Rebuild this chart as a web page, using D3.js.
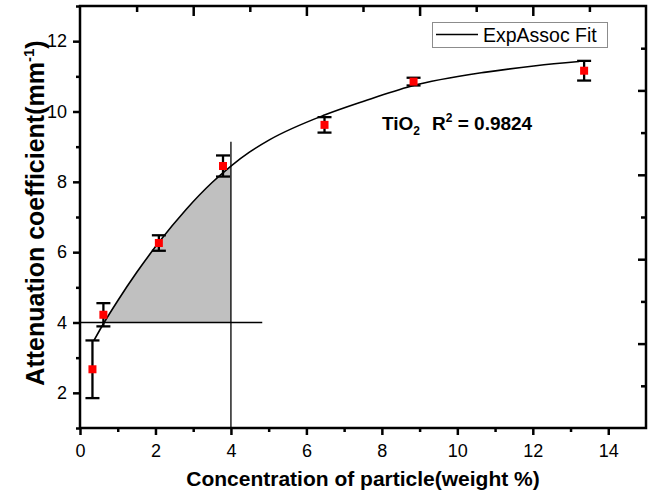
<!DOCTYPE html>
<html>
<head>
<meta charset="utf-8">
<script src="https://cdn.jsdelivr.net/npm/d3@7"></script>
<style>
  body { margin: 0; background: #fff; }
  text { font-family: Arial, "Liberation Sans", sans-serif; }
</style>
</head>
<body>
<script>
// measured points with error bars
const conc = [0.33, 0.62, 2.09, 3.79, 6.48, 8.84, 13.36];
const atten = [2.67, 4.22, 6.26, 8.45, 9.62, 10.85, 11.16];
const errs = [0.82, 0.33, 0.22, 0.3, 0.22, 0.11, 0.28];

// ExpAssoc fit curve
const fitX = [0.37, 0.64, 1.0, 1.5, 2.09, 2.8, 3.5, 4.0, 4.5, 5.03, 6.48, 7.54, 8.77, 10.76, 12.08, 13.23];
const fitY = [3.49, 4.0, 4.62, 5.42, 6.28, 7.2, 7.98, 8.45, 8.85, 9.2, 9.9, 10.3, 10.72, 11.12, 11.3, 11.42];

const xMajor = [0, 2, 4, 6, 8, 10, 12, 14];
const yMajor = [2, 4, 6, 8, 10, 12];

// guide lines
const markX = 4, markY = 4, hLineEnd = 4.83, vLineTop = 9.14;

const W = 652, H = 499;
const x = d3.scaleLinear().domain([0, 15]).range([80, 646]);
const y = d3.scaleLinear().domain([1, 13]).range([428, 6]);

const svg = d3.select("body").append("svg")
  .attr("width", W).attr("height", H);

const fit = fitX.map((d, i) => [d, fitY[i]]);

// shaded area between fit and y=4 up to x=4
svg.append("clipPath").attr("id", "shade")
  .append("rect")
  .attr("x", x(0)).attr("y", y(13))
  .attr("width", x(markX) - x(0))
  .attr("height", y(markY) - y(13));

svg.append("path")
  .datum(fit)
  .attr("clip-path", "url(#shade)")
  .attr("fill", "#c0c0c0")
  .attr("d", d3.area()
    .x(d => x(d[0]))
    .y0(y(markY))
    .y1(d => y(d[1]))
    .curve(d3.curveMonotoneX));

// guide lines
svg.append("line")
  .attr("x1", x(0)).attr("x2", x(hLineEnd))
  .attr("y1", y(markY)).attr("y2", y(markY))
  .attr("stroke", "#000").attr("stroke-width", 1.3);
svg.append("line")
  .attr("x1", x(markX)).attr("x2", x(markX))
  .attr("y1", y(1)).attr("y2", y(vLineTop))
  .attr("stroke", "#000").attr("stroke-width", 1.3);

// fit curve
svg.append("path")
  .datum(fit)
  .attr("fill", "none")
  .attr("stroke", "#000")
  .attr("stroke-width", 1.6)
  .attr("d", d3.line()
    .x(d => x(d[0]))
    .y(d => y(d[1]))
    .curve(d3.curveMonotoneX));

// axes
const styleAxis = g => {
  g.select(".domain").remove();
  g.selectAll("line").attr("stroke", "#000").attr("stroke-width", 2.5);
  g.selectAll("text").attr("font-size", 18).attr("fill", "#000")
    .style("font-family", "Arial, 'Liberation Sans', sans-serif");
};

svg.append("g").attr("transform", `translate(0,${y(1)})`)
  .call(d3.axisBottom(x).tickValues(xMajor).tickFormat(d3.format("d"))
    .tickSizeInner(7).tickSizeOuter(0).tickPadding(9))
  .call(styleAxis);
svg.append("g").attr("transform", `translate(0,${y(1)})`)
  .call(d3.axisBottom(x).tickValues(d3.range(1, 15, 2)).tickFormat("")
    .tickSizeInner(4).tickSizeOuter(0))
  .call(styleAxis);

svg.append("g").attr("transform", `translate(${x(0)},0)`)
  .call(d3.axisLeft(y).tickValues(yMajor).tickFormat(d3.format("d"))
    .tickSizeInner(7).tickSizeOuter(0).tickPadding(6))
  .call(styleAxis);
svg.append("g").attr("transform", `translate(${x(0)},0)`)
  .call(d3.axisLeft(y).tickValues(d3.range(1, 14, 2)).tickFormat("")
    .tickSizeInner(4).tickSizeOuter(0))
  .call(styleAxis);

// top axis: inward ticks every 1.5, longer every 3
svg.append("g").attr("transform", `translate(0,${y(13)})`)
  .call(d3.axisTop(x).tickValues(d3.range(3, 15, 3)).tickFormat("")
    .tickSizeInner(-10).tickSizeOuter(0))
  .call(styleAxis);
svg.append("g").attr("transform", `translate(0,${y(13)})`)
  .call(d3.axisTop(x).tickValues(d3.range(1.5, 15, 3)).tickFormat("")
    .tickSizeInner(-6).tickSizeOuter(0))
  .call(styleAxis);

// right axis: inward ticks every 1.2, longer every 2.4
svg.append("g").attr("transform", `translate(${x(15)},0)`)
  .call(d3.axisRight(y).tickValues(d3.range(3.4, 13, 2.4)).tickFormat("")
    .tickSizeInner(-8).tickSizeOuter(0))
  .call(styleAxis);
svg.append("g").attr("transform", `translate(${x(15)},0)`)
  .call(d3.axisRight(y).tickValues(d3.range(2.2, 13, 2.4)).tickFormat("")
    .tickSizeInner(-5).tickSizeOuter(0))
  .call(styleAxis);

// frame
svg.append("rect")
  .attr("x", x(0)).attr("y", y(13))
  .attr("width", x(15) - x(0)).attr("height", y(1) - y(13))
  .attr("fill", "none").attr("stroke", "#000").attr("stroke-width", 2.5);

// error bars
const pts = conc.map((d, i) => ({ x: d, y: atten[i], e: errs[i] }));
const eb = svg.append("g").attr("stroke", "#000").attr("stroke-width", 2.3);
pts.forEach(p => {
  eb.append("line")
    .attr("x1", x(p.x)).attr("x2", x(p.x))
    .attr("y1", y(p.y - p.e)).attr("y2", y(p.y + p.e));
  [p.y - p.e, p.y + p.e].forEach(v => {
    eb.append("line")
      .attr("x1", x(p.x) - 7).attr("x2", x(p.x) + 7)
      .attr("y1", y(v)).attr("y2", y(v));
  });
});

svg.append("g").selectAll("rect")
  .data(pts)
  .join("rect")
  .attr("x", d => x(d.x) - 4)
  .attr("y", d => y(d.y) - 4)
  .attr("width", 8).attr("height", 8)
  .attr("fill", "#ff0000");

// legend
const leg = svg.append("g");
leg.append("rect")
  .attr("x", 432.5).attr("y", 22.5).attr("width", 175).attr("height", 25)
  .attr("fill", "#fff").attr("stroke", "#8c8c8c").attr("stroke-width", 1);
leg.append("line")
  .attr("x1", 436).attr("x2", 478).attr("y1", 34.5).attr("y2", 34.5)
  .attr("stroke", "#000").attr("stroke-width", 1.3);
leg.append("text")
  .attr("x", 483).attr("y", 42)
  .attr("font-size", 19.5)
  .text("ExpAssoc Fit");

// annotation
const t1 = svg.append("text")
  .attr("x", 382).attr("y", 130)
  .attr("font-size", 19).attr("font-weight", "bold");
t1.append("tspan").text("TiO");
t1.append("tspan").attr("font-size", 12).attr("dy", 5).text("2");

const t2 = svg.append("text")
  .attr("x", 432).attr("y", 130)
  .attr("font-size", 19).attr("font-weight", "bold");
t2.append("tspan").text("R");
t2.append("tspan").attr("font-size", 12).attr("dy", -8).text("2");
t2.append("tspan").attr("dy", 8).text(" = 0.9824");

// axis titles
svg.append("text")
  .attr("x", x(7.5)).attr("y", 486)
  .attr("text-anchor", "middle")
  .attr("font-size", 21).attr("font-weight", "bold")
  .text("Concentration of particle(weight %)");

const yt = svg.append("text")
  .attr("transform", "translate(44,213) rotate(-90)")
  .attr("text-anchor", "middle")
  .attr("font-size", 25).attr("font-weight", "bold");
yt.append("tspan").text("Attenuation coefficient(mm");
yt.append("tspan").attr("font-size", 15).attr("dy", -10).text("-1");
yt.append("tspan").attr("dy", 10).text(")");
</script>
</body>
</html>
